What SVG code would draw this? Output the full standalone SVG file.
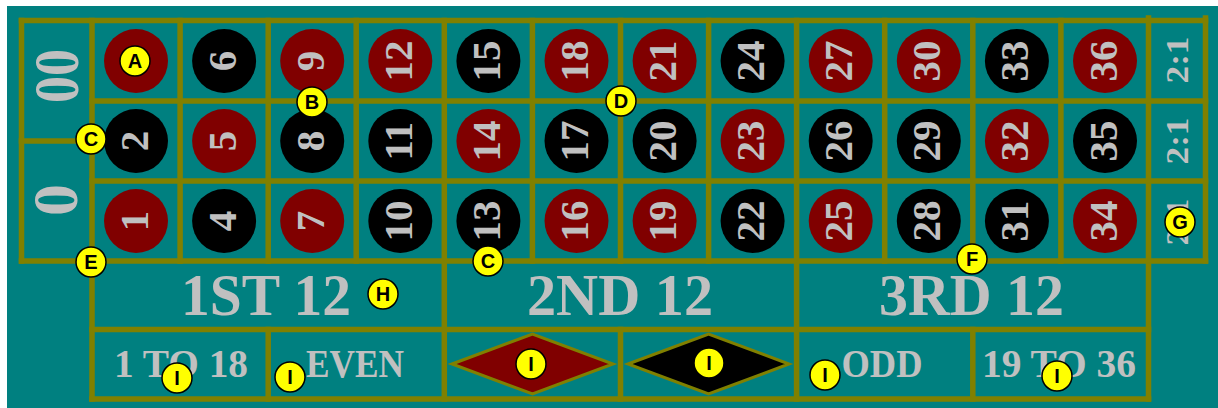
<svg xmlns="http://www.w3.org/2000/svg" width="1218" height="408" viewBox="0 0 1218 408">
<style>
.ln{stroke:#808000;stroke-width:5.5;stroke-linecap:square;fill:none}
.red{fill:#800000}
.blk{fill:#000000}
.num{font-family:"Liberation Serif","Times New Roman",serif;font-weight:bold;font-size:41px;fill:#c0c0c0;text-anchor:middle}
.lab{font-family:"Liberation Serif","Times New Roman",serif;font-weight:bold;fill:#c0c0c0;text-anchor:middle}
.doz{font-size:60px}
.out{font-size:40px}
.mk{fill:#ffff00;stroke:#000;stroke-width:1.5}
.mkt{font-family:"Liberation Sans",Arial,sans-serif;font-weight:bold;font-size:20px;fill:#000;text-anchor:middle}
</style>
<rect x="0" y="0" width="1218" height="408" fill="#ffffff"/>
<rect x="7" y="6" width="1211" height="402" fill="#008080"/>

<g id="zeros">
<text class="lab" style="font-size:64px" transform="translate(78,76) rotate(-90)" textLength="54" lengthAdjust="spacingAndGlyphs">00</text>
<text class="lab" style="font-size:64px" transform="translate(77,200) rotate(-90)">0</text>
</g>

<g id="column-bets">
<text class="lab" style="font-size:31px" transform="translate(1188,60) rotate(-90)" textLength="47" lengthAdjust="spacingAndGlyphs">2:1</text>
<text class="lab" style="font-size:31px" transform="translate(1188,141) rotate(-90)" textLength="47" lengthAdjust="spacingAndGlyphs">2:1</text>
<text class="lab" style="font-size:31px" transform="translate(1188,222) rotate(-90)" textLength="47" lengthAdjust="spacingAndGlyphs">2:1</text>
</g>

<g id="numbers">
<g id="n3"><circle class="red" cx="136" cy="61" r="32"/><text class="num" transform="translate(147.5,61) rotate(-90)">3</text></g>
<g id="n6"><circle class="blk" cx="224.1" cy="61" r="32"/><text class="num" transform="translate(235.6,61) rotate(-90)">6</text></g>
<g id="n9"><circle class="red" cx="312.2" cy="61" r="32"/><text class="num" transform="translate(323.7,61) rotate(-90)">9</text></g>
<g id="n12"><circle class="red" cx="400.3" cy="61" r="32"/><text class="num" transform="translate(411.8,61) rotate(-90)">12</text></g>
<g id="n15"><circle class="blk" cx="488.4" cy="61" r="32"/><text class="num" transform="translate(499.9,61) rotate(-90)">15</text></g>
<g id="n18"><circle class="red" cx="576.5" cy="61" r="32"/><text class="num" transform="translate(588,61) rotate(-90)">18</text></g>
<g id="n21"><circle class="red" cx="664.6" cy="61" r="32"/><text class="num" transform="translate(676.1,61) rotate(-90)">21</text></g>
<g id="n24"><circle class="blk" cx="752.6" cy="61" r="32"/><text class="num" transform="translate(764.1,61) rotate(-90)">24</text></g>
<g id="n27"><circle class="red" cx="840.7" cy="61" r="32"/><text class="num" transform="translate(852.2,61) rotate(-90)">27</text></g>
<g id="n30"><circle class="red" cx="928.8" cy="61" r="32"/><text class="num" transform="translate(940.3,61) rotate(-90)">30</text></g>
<g id="n33"><circle class="blk" cx="1016.9" cy="61" r="32"/><text class="num" transform="translate(1028.4,61) rotate(-90)">33</text></g>
<g id="n36"><circle class="red" cx="1105" cy="61" r="32"/><text class="num" transform="translate(1116.5,61) rotate(-90)">36</text></g>

<g id="n2"><circle class="blk" cx="136" cy="141" r="32"/><text class="num" transform="translate(147.5,141) rotate(-90)">2</text></g>
<g id="n5"><circle class="red" cx="224.1" cy="141" r="32"/><text class="num" transform="translate(235.6,141) rotate(-90)">5</text></g>
<g id="n8"><circle class="blk" cx="312.2" cy="141" r="32"/><text class="num" transform="translate(323.7,141) rotate(-90)">8</text></g>
<g id="n11"><circle class="blk" cx="400.3" cy="141" r="32"/><text class="num" transform="translate(411.8,141) rotate(-90)">11</text></g>
<g id="n14"><circle class="red" cx="488.4" cy="141" r="32"/><text class="num" transform="translate(499.9,141) rotate(-90)">14</text></g>
<g id="n17"><circle class="blk" cx="576.5" cy="141" r="32"/><text class="num" transform="translate(588,141) rotate(-90)">17</text></g>
<g id="n20"><circle class="blk" cx="664.6" cy="141" r="32"/><text class="num" transform="translate(676.1,141) rotate(-90)">20</text></g>
<g id="n23"><circle class="red" cx="752.6" cy="141" r="32"/><text class="num" transform="translate(764.1,141) rotate(-90)">23</text></g>
<g id="n26"><circle class="blk" cx="840.7" cy="141" r="32"/><text class="num" transform="translate(852.2,141) rotate(-90)">26</text></g>
<g id="n29"><circle class="blk" cx="928.8" cy="141" r="32"/><text class="num" transform="translate(940.3,141) rotate(-90)">29</text></g>
<g id="n32"><circle class="red" cx="1016.9" cy="141" r="32"/><text class="num" transform="translate(1028.4,141) rotate(-90)">32</text></g>
<g id="n35"><circle class="blk" cx="1105" cy="141" r="32"/><text class="num" transform="translate(1116.5,141) rotate(-90)">35</text></g>

<g id="n1"><circle class="red" cx="136" cy="221" r="32"/><text class="num" transform="translate(147.5,221) rotate(-90)">1</text></g>
<g id="n4"><circle class="blk" cx="224.1" cy="221" r="32"/><text class="num" transform="translate(235.6,221) rotate(-90)">4</text></g>
<g id="n7"><circle class="red" cx="312.2" cy="221" r="32"/><text class="num" transform="translate(323.7,221) rotate(-90)">7</text></g>
<g id="n10"><circle class="blk" cx="400.3" cy="221" r="32"/><text class="num" transform="translate(411.8,221) rotate(-90)">10</text></g>
<g id="n13"><circle class="blk" cx="488.4" cy="221" r="32"/><text class="num" transform="translate(499.9,221) rotate(-90)">13</text></g>
<g id="n16"><circle class="red" cx="576.5" cy="221" r="32"/><text class="num" transform="translate(588,221) rotate(-90)">16</text></g>
<g id="n19"><circle class="red" cx="664.6" cy="221" r="32"/><text class="num" transform="translate(676.1,221) rotate(-90)">19</text></g>
<g id="n22"><circle class="blk" cx="752.6" cy="221" r="32"/><text class="num" transform="translate(764.1,221) rotate(-90)">22</text></g>
<g id="n25"><circle class="red" cx="840.7" cy="221" r="32"/><text class="num" transform="translate(852.2,221) rotate(-90)">25</text></g>
<g id="n28"><circle class="blk" cx="928.8" cy="221" r="32"/><text class="num" transform="translate(940.3,221) rotate(-90)">28</text></g>
<g id="n31"><circle class="blk" cx="1016.9" cy="221" r="32"/><text class="num" transform="translate(1028.4,221) rotate(-90)">31</text></g>
<g id="n34"><circle class="red" cx="1105" cy="221" r="32"/><text class="num" transform="translate(1116.5,221) rotate(-90)">34</text></g>
</g>

<g id="outside-bets">
<g id="dozen1"><text class="lab doz" x="266" y="315" textLength="170" lengthAdjust="spacingAndGlyphs">1ST 12</text></g>
<g id="dozen2"><text class="lab doz" x="620" y="315" textLength="186" lengthAdjust="spacingAndGlyphs">2ND 12</text></g>
<g id="dozen3"><text class="lab doz" x="971.5" y="315" textLength="185" lengthAdjust="spacingAndGlyphs">3RD 12</text></g>
<g id="low"><text class="lab out" x="181" y="377" textLength="134" lengthAdjust="spacingAndGlyphs">1 TO 18</text></g>
<g id="even"><text class="lab out" x="355" y="377" textLength="98" lengthAdjust="spacingAndGlyphs">EVEN</text></g>
<g id="redbet"><polygon points="452,364 532.5,334 613,364 532.5,394" fill="#800000" stroke="#808000" stroke-width="3"/></g>
<g id="blackbet"><polygon points="628,364 708.6,334 789,364 708.6,394" fill="#000000" stroke="#808000" stroke-width="3"/></g>
<g id="odd"><text class="lab out" x="882" y="377" textLength="81" lengthAdjust="spacingAndGlyphs">ODD</text></g>
<g id="high"><text class="lab out" x="1059" y="377" textLength="154" lengthAdjust="spacingAndGlyphs">19 TO 36</text></g>
</g>

<g id="grid">
<line class="ln" x1="21.5" y1="20.5" x2="1205.5" y2="20.5"/>
<line class="ln" x1="92" y1="101" x2="1205.5" y2="101"/>
<line class="ln" x1="92" y1="181" x2="1205.5" y2="181"/>
<line class="ln" x1="21.5" y1="261" x2="1205.5" y2="261"/>
<line class="ln" x1="21.5" y1="141" x2="92" y2="141"/>
<line class="ln" x1="92" y1="329.5" x2="1148.5" y2="329.5"/>
<line class="ln" x1="92" y1="399" x2="1148.5" y2="399"/>
<line class="ln" x1="21.5" y1="20.5" x2="21.5" y2="261"/>
<line class="ln" x1="92" y1="20.5" x2="92" y2="399"/>
<line class="ln" x1="180.1" y1="20.5" x2="180.1" y2="261"/>
<line class="ln" x1="268.2" y1="20.5" x2="268.2" y2="261"/>
<line class="ln" x1="356.2" y1="20.5" x2="356.2" y2="261"/>
<line class="ln" x1="444.3" y1="20.5" x2="444.3" y2="399"/>
<line class="ln" x1="532.4" y1="20.5" x2="532.4" y2="261"/>
<line class="ln" x1="620.5" y1="20.5" x2="620.5" y2="261"/>
<line class="ln" x1="708.6" y1="20.5" x2="708.6" y2="261"/>
<line class="ln" x1="796.6" y1="20.5" x2="796.6" y2="399"/>
<line class="ln" x1="884.7" y1="20.5" x2="884.7" y2="261"/>
<line class="ln" x1="972.8" y1="20.5" x2="972.8" y2="261"/>
<line class="ln" x1="1060.9" y1="20.5" x2="1060.9" y2="261"/>
<line class="ln" x1="1148.5" y1="18" x2="1148.5" y2="399"/>
<line class="ln" x1="1205.5" y1="18" x2="1205.5" y2="261"/>
<line class="ln" x1="268.2" y1="329.5" x2="268.2" y2="399"/>
<line class="ln" x1="620.5" y1="329.5" x2="620.5" y2="399"/>
<line class="ln" x1="972.8" y1="329.5" x2="972.8" y2="399"/>
</g>

<g id="connectors"></g>

<g id="markers">
<g id="mA"><circle class="mk" cx="135" cy="61" r="15"/><text class="mkt" x="135" y="68">A</text></g>
<g id="mB"><circle class="mk" cx="312" cy="102" r="15"/><text class="mkt" x="312" y="109">B</text></g>
<g id="mC1"><circle class="mk" cx="91" cy="139" r="15"/><text class="mkt" x="91" y="146">C</text></g>
<g id="mD"><circle class="mk" cx="621" cy="101" r="15"/><text class="mkt" x="621" y="108">D</text></g>
<g id="mE"><circle class="mk" cx="91" cy="262" r="15"/><text class="mkt" x="91" y="269">E</text></g>
<g id="mC2"><circle class="mk" cx="488" cy="261" r="15"/><text class="mkt" x="488" y="268">C</text></g>
<g id="mF"><circle class="mk" cx="972" cy="259" r="15"/><text class="mkt" x="972" y="266">F</text></g>
<g id="mG"><circle class="mk" cx="1180" cy="222" r="15"/><text class="mkt" x="1180" y="229">G</text></g>
<g id="mH"><circle class="mk" cx="383" cy="294" r="15"/><text class="mkt" x="383" y="301">H</text></g>
<g id="mI1"><circle class="mk" cx="177" cy="378" r="15"/><text class="mkt" x="177" y="385">I</text></g>
<g id="mI2"><circle class="mk" cx="290" cy="377" r="15"/><text class="mkt" x="290" y="384">I</text></g>
<g id="mI3"><circle class="mk" cx="531" cy="364" r="15"/><text class="mkt" x="531" y="371">I</text></g>
<g id="mI4"><circle class="mk" cx="709" cy="363" r="15"/><text class="mkt" x="709" y="370">I</text></g>
<g id="mI5"><circle class="mk" cx="825" cy="375" r="15"/><text class="mkt" x="825" y="382">I</text></g>
<g id="mI6"><circle class="mk" cx="1057" cy="376" r="15"/><text class="mkt" x="1057" y="383">I</text></g>
</g>
</svg>
